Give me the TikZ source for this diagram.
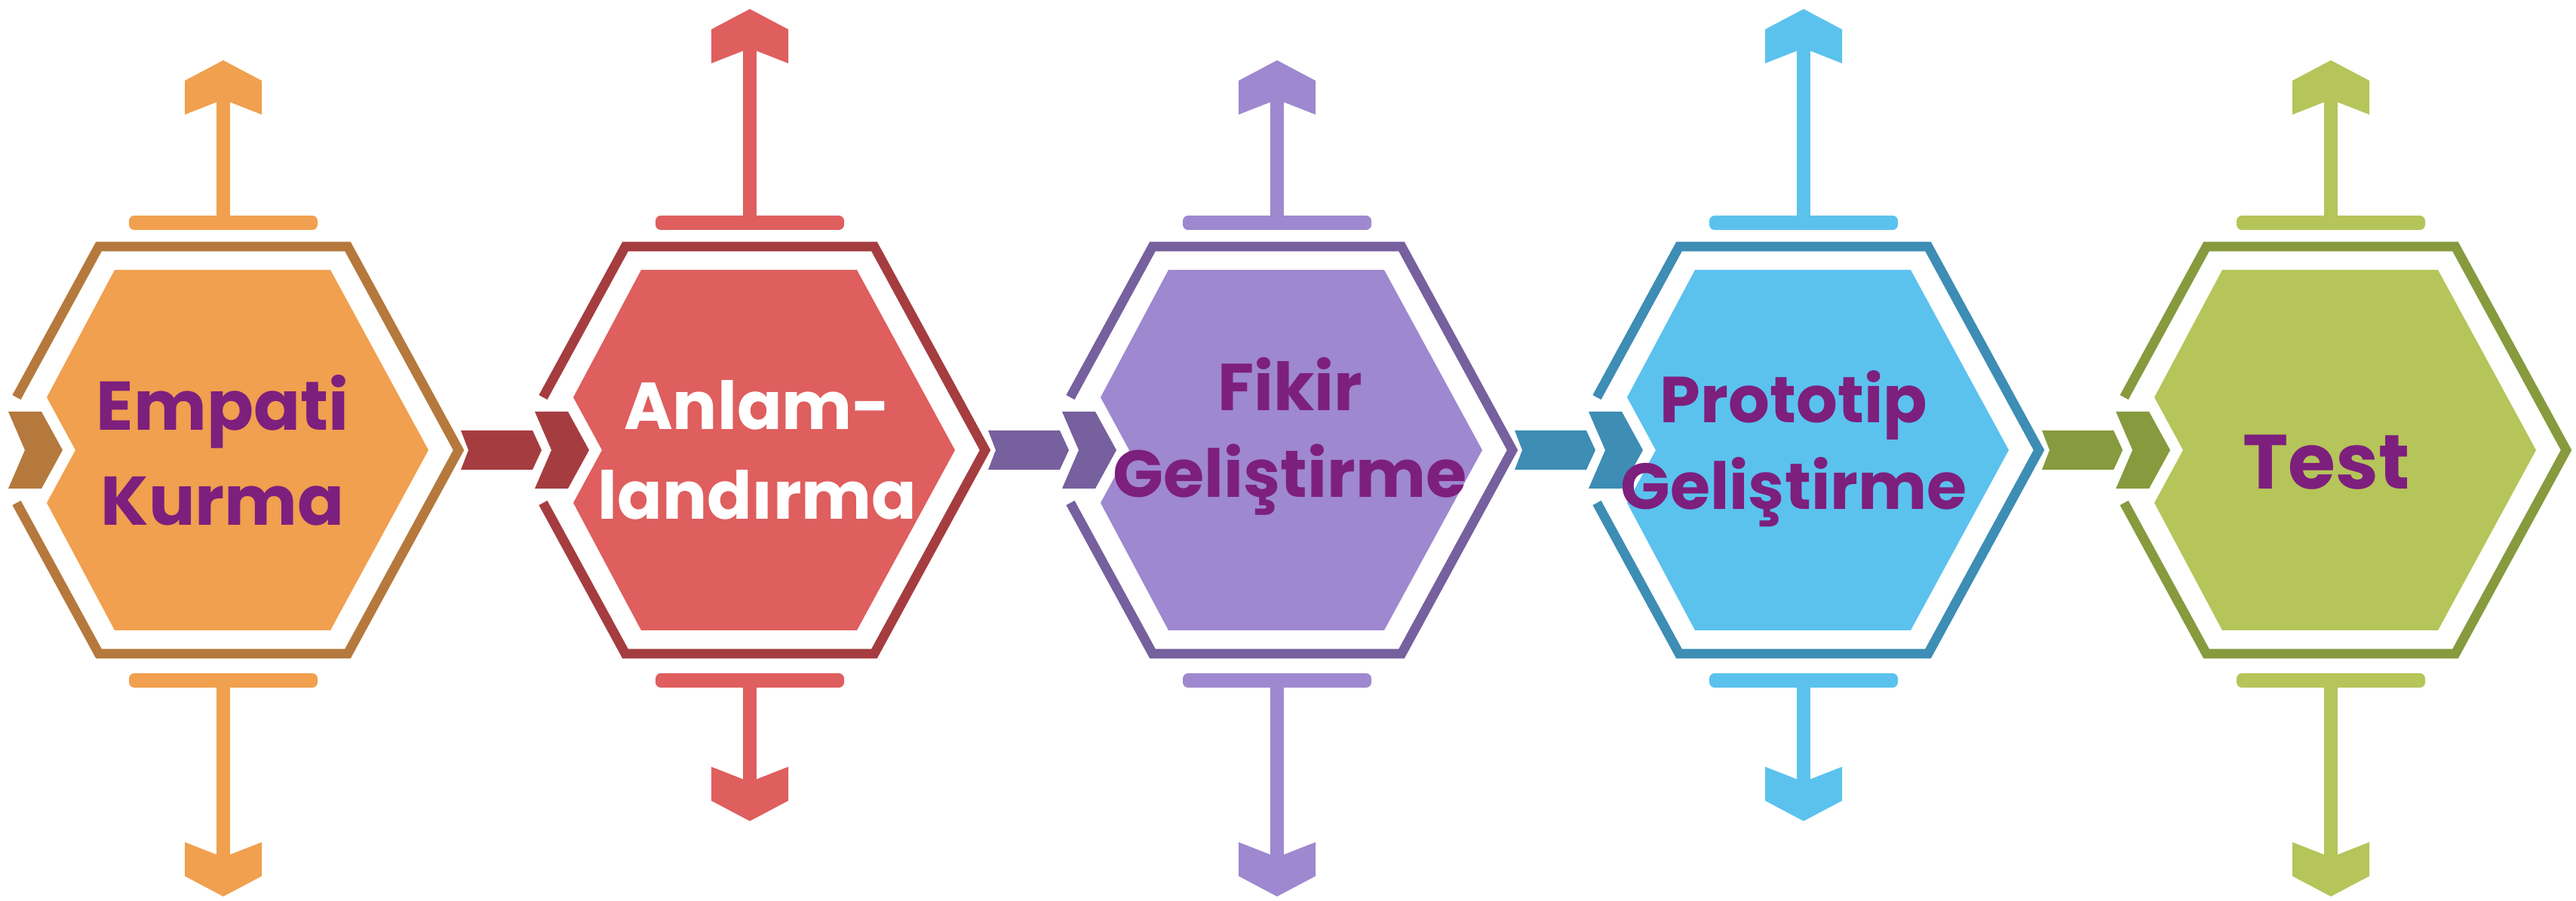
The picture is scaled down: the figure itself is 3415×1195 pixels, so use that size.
\documentclass[tikz,border=0pt]{standalone}
\usepackage{fontspec}
\setmainfont{Poppins}

\definecolor{orfill}{HTML}{F0A04E}
\definecolor{ordark}{HTML}{B5793D}
\definecolor{rdfill}{HTML}{DF5E5E}
\definecolor{rddark}{HTML}{A53D40}
\definecolor{pufill}{HTML}{9E88CF}
\definecolor{pudark}{HTML}{76609E}
\definecolor{blfill}{HTML}{5BC2EE}
\definecolor{bldark}{HTML}{3D8DB5}
\definecolor{grfill}{HTML}{B5C55A}
\definecolor{grdark}{HTML}{879A3E}
\definecolor{txtpurple}{HTML}{7D1F7D}

\tikzset{
  hexline/.style={line width=3.6pt, line join=miter},
  steptext/.style={font=\bfseries, align=center, inner sep=0pt},
}

\begin{document}
\begin{tikzpicture}[x=0.01cm,y=0.01cm]
      \clip (0,0) rectangle (3415,1195);
      \fill[white] (0,0) rectangle (3415,1195);

      % centres of the five steps
      \coordinate (h1) at (296,598);
      \coordinate (h2) at (994,598);
      \coordinate (h3) at (1693,598);
      \coordinate (h4) at (2391,598);
      \coordinate (h5) at (3090,598);

      \foreach \i/\fc/\dc/\up/\down in {1/orfill/ordark/517/-592, 2/rdfill/rddark/585/-492,
          3/pufill/pudark/517/-592, 4/blfill/bldark/585/-492, 5/grfill/grdark/517/-592}{
        \begin{scope}[shift={(h\i)}]
          \draw[\dc, hexline] (-274,70) -- (-165,270) -- (165,270) -- (312,0)
            -- (165,-270) -- (-165,-270) -- (-274,-70);
          \fill[\fc] (-234,70) -- (-144,239) -- (142,239) -- (272,0) -- (142,-239)
            -- (-144,-239) -- (-234,-70) -- (-196,0) -- cycle;
          % chevron entering the hexagon
          \fill[\dc] (-285,51) -- (-241,51) -- (-213,0) -- (-241,-51) -- (-285,-51) -- (-263,0) -- cycle;
          % bar from the previous step
          \ifnum\i>1
            \fill[\dc] (-383,26) -- (-288,26) -- (-276,0) -- (-288,-26) -- (-383,-26) -- (-373,0) -- cycle;
          \fi
          % arrow up
          \fill[\fc, rounded corners=2pt] (-125,292) rectangle (125,311);
          \fill[\fc] (-9,301) rectangle (9,\up-50);
          \fill[\fc] (0,\up) -- (51,\up-27) -- (51,\up-72) -- (0,\up-52) -- (-51,\up-72) -- (-51,\up-27) -- cycle;
          % arrow down
          \fill[\fc, rounded corners=2pt] (-125,-296) rectangle (125,-315);
          \fill[\fc] (-9,-305) rectangle (9,\down+50);
          \fill[\fc] (0,\down) -- (51,\down+27) -- (51,\down+72) -- (0,\down+52) -- (-51,\down+72) -- (-51,\down+27) -- cycle;
        \end{scope}
      }

      \node[steptext, text=txtpurple, font=\fontsize{26}{35.8}\selectfont\bfseries] (emp) at (295,598) {Empati\\Kurma};
      \node[steptext, text=white, font=\fontsize{25}{33.9}\selectfont\bfseries] (anl) at (1004,598) {Anlam-\\landırma};
      \node[steptext, text=txtpurple, font=\fontsize{25}{32.7}\selectfont\bfseries] (fik) at (1710,616) {Fikir\\Geliştirme};
      \node[steptext, text=txtpurple, font=\fontsize{24.5}{32.7}\selectfont\bfseries] (pro) at (2378,600) {Prototip\\Geliştirme};
      \node[steptext, text=txtpurple, font=\fontsize{29}{36}\selectfont\bfseries] (tst) at (3084,582) {Test};
\end{tikzpicture}
\end{document}
